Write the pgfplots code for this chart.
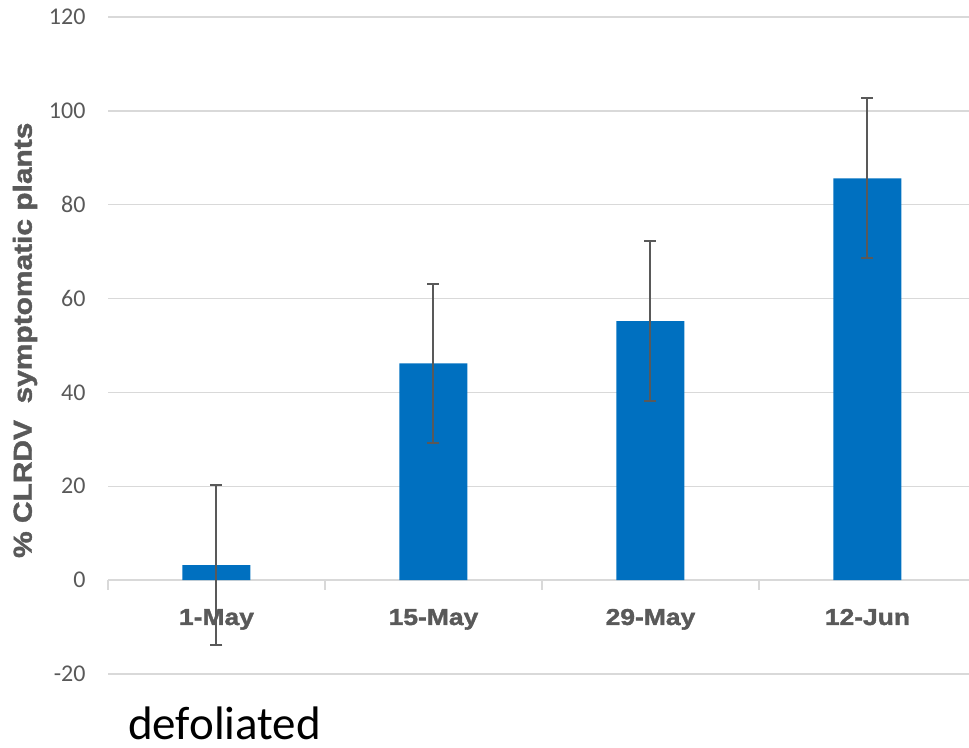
\documentclass[border=0pt]{standalone}
\usepackage{fontspec}
\usepackage{pgfplots}
\pgfplotsset{compat=1.18}
\setmainfont{Carlito}
\newfontfamily\heavy[FakeStretch=1.15,FakeBold=1.6]{Liberation Sans Bold}
\definecolor{barblue}{HTML}{0070C0}
\definecolor{txtgrey}{HTML}{595959}
\definecolor{gridgrey}{HTML}{D9D9D9}

\pgfplotstableread{
x  y     err
0  3.2   17.05
1  46.2  17.0
2  55.2  17.05
3  85.6  17.05
}\cldata

\begin{document}
\begin{tikzpicture}
\useasboundingbox (0,0) rectangle (969pt,747pt);
\begin{axis}[
  at={(108pt,73pt)}, anchor=south west,
  scale only axis,
  width=861pt, height=657pt,
  xmin=-0.5, xmax=3.468,
  ymin=-20, ymax=120,
  ytick={-20,0,...,120},
  xtick=data,
  xticklabels={1-May,15-May,29-May,12-Jun},
  axis line style={draw=none},
  major tick length=0pt,
  ymajorgrids,
  grid style={gridgrey, line width=1.5pt},
  ticklabel style={txtgrey},
  yticklabel style={font=\fontsize{24}{28}\selectfont, anchor=east, xshift=-19pt},
  xticklabel style={font=\heavy\fontsize{23}{27}\selectfont, anchor=base, yshift=49pt},
  /pgf/number format/assume math mode=true,
  ylabel={\% CLRDV\ \ symptomatic plants},
  every axis y label/.style={at={(rel axis cs:0,0.508)}, xshift=-83pt, rotate=90, anchor=center,
    font=\heavy\fontsize{26}{30}\selectfont, color=txtgrey},
  clip=false,
]
\draw[gridgrey, line width=1.5pt] (axis cs:-0.5,0) -- (axis cs:3.468,0);
\draw[gridgrey, line width=1.5pt] (axis cs:-0.5,0) -- (axis cs:-0.5,-2.13);
\draw[gridgrey, line width=1.5pt] (axis cs:0.5,0) -- (axis cs:0.5,-2.13);
\draw[gridgrey, line width=1.5pt] (axis cs:1.5,0) -- (axis cs:1.5,-2.13);
\draw[gridgrey, line width=1.5pt] (axis cs:2.5,0) -- (axis cs:2.5,-2.13);
\addplot[ybar, bar width=68pt, fill=barblue, draw=none,
  error bars/.cd, y dir=both, y explicit,
  error bar style={txtgrey, line width=2pt},
  error mark options={rotate=90, mark size=6pt, txtgrey, line width=2pt}]
  table[x=x, y=y, y error=err] {\cldata};
\end{axis}
\node[anchor=base west, inner sep=0pt, font=\fontsize{47}{52}\selectfont] at (128pt,8pt) {defoliated};
\end{tikzpicture}
\end{document}
